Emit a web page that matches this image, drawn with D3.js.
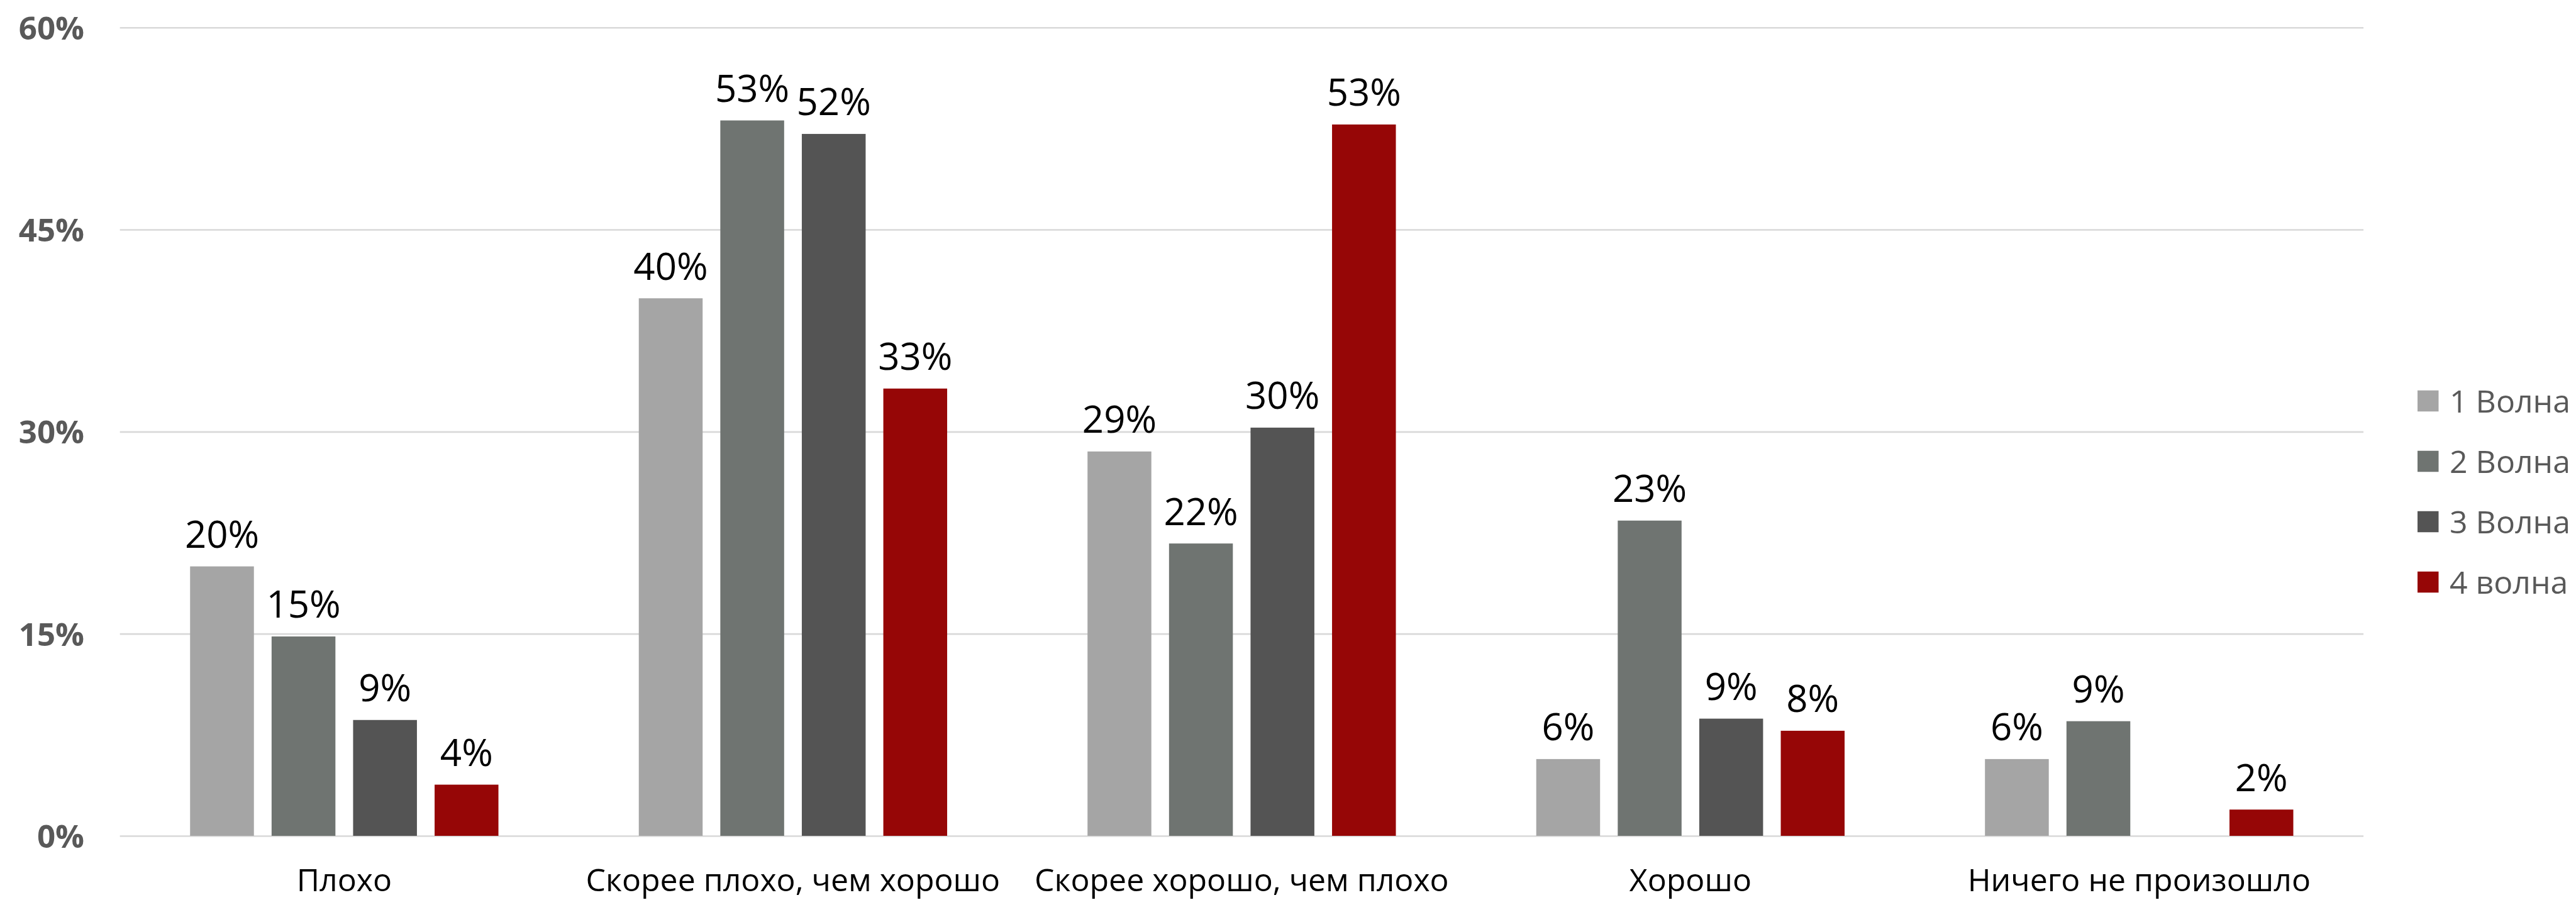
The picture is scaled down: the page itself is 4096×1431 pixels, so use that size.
<!DOCTYPE html>
<html>
<head>
<meta charset="utf-8">
<script src="https://cdn.jsdelivr.net/npm/d3@7"></script>
<style>
  html, body { margin: 0; padding: 0; background: #fff; }
  svg { display: block; }
</style>
</head>
<body>
<script>
const categories = ["Плохо", "Скорее плохо, чем хорошо", "Скорее хорошо, чем плохо", "Хорошо", "Ничего не произошло"];
const seriesNames = ["1 Волна", "2 Волна", "3 Волна", "4 волна"];
const wave1 = [0.200, 0.399, 0.2853, 0.057, 0.057];
const wave2 = [0.148, 0.531, 0.217, 0.234, 0.0851];
const wave3 = [0.086, 0.521, 0.303, 0.087, null];
const wave4 = [0.038, 0.332, 0.528, 0.078, 0.0195];
const yTicks = [0, 0.15, 0.30, 0.45, 0.60];
const colors = ["#A5A5A5", "#6F7471", "#545454", "#960606"];

const seriesValues = [wave1, wave2, wave3, wave4];
const W = 4096, H = 1431;
const plotLeft = 190.65, plotRight = 3758.1, plotTop = 43.7, plotBottom = 1329;

const svg = d3.select("body").append("svg").attr("width", W).attr("height", H);

const x0 = d3.scaleBand().domain(categories).range([plotLeft, plotRight]).paddingInner(0).paddingOuter(0);
const groupPad = 111.6;
const x1 = d3.scaleBand().domain(seriesNames).range([groupPad, x0.bandwidth() - groupPad]).paddingInner(0.217).paddingOuter(0);
const y = d3.scaleLinear().domain([0, 0.6]).range([plotBottom, plotTop]);
const fmt = d3.format(".0%");

// gridlines
const grid = svg.append("g").attr("transform", `translate(${plotLeft},0)`)
  .call(d3.axisLeft(y).tickValues(yTicks).tickSize(-(plotRight - plotLeft)).tickFormat(""));
grid.select(".domain").remove();
grid.selectAll(".tick line").attr("stroke", "#D9D9D9").attr("stroke-width", 2.6);

// y labels
const yAxis = svg.append("g").attr("transform", `translate(${plotLeft},0)`)
  .call(d3.axisLeft(y).tickValues(yTicks).tickSize(0).tickPadding(plotLeft - 134).tickFormat(fmt));
yAxis.select(".domain").remove();
yAxis.selectAll(".tick text")
  .attr("font-family", "'Open Sans', sans-serif")
  .attr("font-weight", "bold")
  .attr("font-size", 51)
  .attr("fill", "#595959")
  .attr("dy", "0.36em");

// bars
const rows = [];
categories.forEach((c, ci) => {
  seriesNames.forEach((s, si) => {
    const v = seriesValues[si][ci];
    if (v !== null && v !== undefined) rows.push({ c, s, si, v });
  });
});

svg.append("g").selectAll("rect").data(rows).join("rect")
  .attr("x", d => x0(d.c) + x1(d.s))
  .attr("width", x1.bandwidth())
  .attr("y", d => y(d.v))
  .attr("height", d => y(0) - y(d.v))
  .attr("fill", d => colors[d.si]);

// data labels
svg.append("g").selectAll("text").data(rows).join("text")
  .attr("x", d => x0(d.c) + x1(d.s) + x1.bandwidth() / 2)
  .attr("y", d => y(d.v) - 29.5)
  .attr("text-anchor", "middle")
  .attr("font-family", "'Open Sans', sans-serif")
  .attr("font-size", 60)
  .attr("fill", "#000")
  .text(d => fmt(d.v));

// x axis labels
const xAxis = svg.append("g").attr("transform", `translate(0,${plotBottom})`)
  .call(d3.axisBottom(x0).tickSize(0).tickPadding(0));
xAxis.select(".domain").remove();
xAxis.selectAll(".tick text")
  .attr("font-family", "'Open Sans', sans-serif")
  .attr("font-size", 50)
  .attr("fill", "#000")
  .attr("dy", null)
  .attr("y", 1417 - plotBottom);

// legend
const legend = svg.append("g").attr("transform", "translate(3844,0)");
const items = legend.selectAll("g").data(seriesNames).join("g")
  .attr("transform", (d, i) => `translate(0,${637.5 + i * 96})`);
items.append("rect").attr("x", 0).attr("y", -16.75).attr("width", 33.5).attr("height", 33.5)
  .attr("fill", (d, i) => colors[i]);
items.append("text").attr("x", 51).attr("y", 0).attr("dy", "0.36em")
  .attr("font-family", "'Open Sans', sans-serif")
  .attr("font-size", 50)
  .attr("fill", "#595959")
  .text(d => d);
</script>
</body>
</html>
